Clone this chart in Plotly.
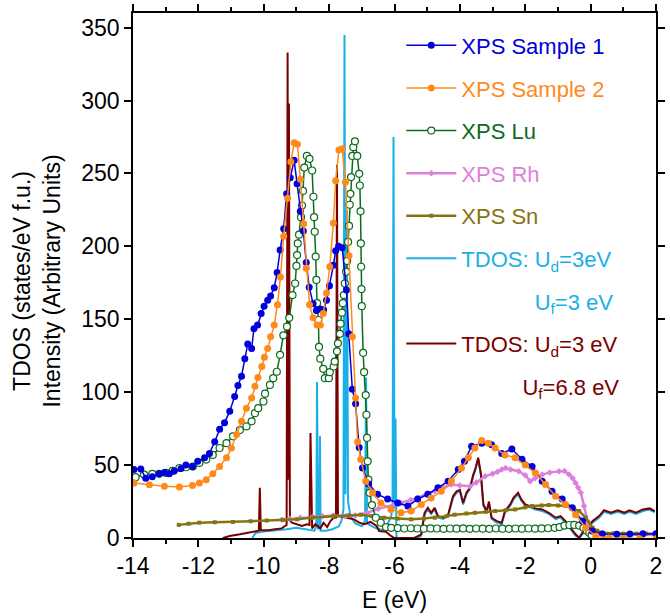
import plotly.graph_objects as go

# ---------------- data ----------------
s1_e = [-13.97, -13.76, -13.61, -13.41, -13.20, -13.04, -12.89, -12.74, -12.53, -12.38, -12.18, -12.02,
        -11.81, -11.66, -11.50, -11.35, -11.20, -11.04, -10.89, -10.79, -10.68, -10.58, -10.49, -10.37,
        -10.30, -10.19, -10.08, -9.99, -9.88, -9.79, -9.68, -9.59, -9.50, -9.39, -9.30, -9.19, -9.07,
        -8.98, -8.88, -8.79, -8.70, -8.61, -8.49, -8.39, -8.27, -8.17, -8.08, -7.99, -7.87, -7.80,
        -7.71, -7.60, -7.47, -7.40, -7.29, -7.19, -7.08, -6.98, -6.79, -6.52, -6.21, -5.90, -5.59,
        -5.29, -4.98, -4.67, -4.36, -4.05, -3.86, -3.64, -3.33, -3.03, -2.72, -2.41, -2.10, -1.79,
        -1.48, -1.18, -0.87, -0.56, -0.25, 0.05, 0.36, 0.80, 1.20, 1.60, 2.00]
s1_i = [47, 47.4, 41, 42, 44, 45, 44, 46, 47.6, 50, 49, 52.6,
        55, 58, 66, 74.5, 79, 87, 97, 104.6, 111, 123, 133, 130,
        143.5, 146, 154, 159, 163, 166, 171.6, 182, 197.5, 212, 236, 247, 259,
        243, 224, 210.5, 189, 172, 160.6, 156, 157, 156.5, 163, 173, 187, 197,
        200, 199, 170, 140, 102, 92, 62, 48, 37, 30, 26.7, 24, 21.9,
        26.7, 30, 34.4, 39, 47, 52.6, 63, 65, 64, 58, 61, 54, 49,
        39, 32, 26.7, 20.7, 11.6, 4.8, 2.7, 2.5, 2.8, 3, 3]

s2_e = [-13.97, -13.50, -13.04, -12.58, -12.18, -11.97, -11.76, -11.56, -11.35, -11.14, -10.99, -10.83,
        -10.68, -10.53, -10.37, -10.27, -10.18, -10.06, -9.98, -9.88, -9.79, -9.68, -9.58, -9.49,
        -9.39, -9.27, -9.17, -9.07, -8.97, -8.88, -8.78, -8.70, -8.60, -8.49, -8.37, -8.27, -8.18,
        -8.08, -7.98, -7.87, -7.80, -7.70, -7.60, -7.50, -7.39, -7.29, -7.19, -7.13, -7.03, -6.88,
        -6.67, -6.42, -6.11, -5.80, -5.49, -5.18, -4.88, -4.57, -4.26, -3.95, -3.74, -3.54, -3.33,
        -3.13, -2.92, -2.62, -2.31, -2.00, -1.69, -1.38, -1.07, -0.77, -0.46, -0.15, 0.16, 0.57,
        1.00, 1.50, 2.00]
s2_i = [37.8, 36.5, 35.5, 35, 36, 37.8, 40, 44, 49, 55, 61.7, 71,
        80, 89, 96, 104, 110, 117.6, 124, 130, 138, 146, 160, 179,
        207, 233, 258, 271, 270, 246, 215.5, 185, 160, 151, 146, 146, 154,
        168, 186, 216, 245, 266, 267, 244, 193.5, 138, 96, 66, 54, 39,
        31, 24, 19.6, 17.3, 18.5, 23, 27.5, 32, 39, 48, 55, 61.7, 66.8,
        65, 61.7, 57, 55, 50, 44.6, 36.7, 28.7, 23, 16, 7, 1.4, 0,
        -0.3, -0.5, -0.5]

lu_e = [-13.92, -13.66, -13.41, -13.20, -12.99, -12.79, -12.58, -12.38, -12.17, -11.97, -11.76, -11.56,
        -11.35, -11.14, -10.94, -10.73, -10.53, -10.37, -10.27, -10.17, -10.01, -9.96, -9.81, -9.71,
        -9.60, -9.50, -9.40, -9.29, -9.22, -9.12, -9.04, -9.00, -8.98, -8.96, -8.92, -8.86, -8.83,
        -8.80, -8.76, -8.68, -8.60, -8.52, -8.48, -8.46, -8.44, -8.41, -8.39, -8.37, -8.33, -8.31,
        -8.27, -8.18, -8.13, -8.01, -7.98, -7.86, -7.83, -7.76, -7.73, -7.67, -7.65, -7.61, -7.58,
        -7.55, -7.52, -7.48, -7.45, -7.42, -7.39, -7.37, -7.35, -7.33, -7.29, -7.26, -7.21, -7.14,
        -7.08, -7.06, -7.04, -7.03, -7.02, -7.01, -7.00, -6.96, -6.93, -6.88, -6.86, -6.84, -6.82,
        -6.80, -6.76, -6.69, -6.57, -6.42, -6.26, -6.10, -5.90, -5.70, -5.50, -5.30, -5.10, -4.90,
        -4.70, -4.50, -4.30, -4.10, -3.90, -3.70, -3.50, -3.30, -3.10, -2.90, -2.70, -2.50, -2.30,
        -2.10, -1.90, -1.70, -1.50, -1.30, -1.10, -0.95, -0.80, -0.65, -0.50, -0.35, -0.22, -0.12,
        -0.04, 0.03]
lu_i = [41.7, 43.5, 44, 44, 44.6, 46, 48, 48.5, 49, 51.5, 53.8, 57,
        61.7, 65, 69.7, 74, 76.5, 80, 85.6, 89, 93.6, 99, 105, 109.6,
        114, 125.6, 139, 145, 151, 166.6, 174.5, 186.6, 194, 202, 208, 220, 228,
        238, 254, 262, 260, 252, 234, 220, 210, 193, 177, 161, 149.5, 131,
        123, 116, 109.6, 109.6, 113.7, 117.6, 121, 128, 133.5, 140, 147, 154.5, 161,
        166.6, 174.5, 182.5, 190, 203, 214, 228.5, 236, 247.5, 262, 268, 272, 262,
        249.7, 241.7, 224, 202, 186, 170.7, 159, 127, 113.7, 98, 84.5, 68.6, 52.6,
        40, 31, 22.6, 13.9, 10.5, 7.5, 7, 6.8, 6.5, 6.7, 6.5, 6.4, 6.6,
        6.5, 6.3, 6.5, 6.4, 6.6, 6.3, 6.5, 6.4, 6.3, 6.5, 6.4, 6.3, 6.5,
        6.4, 6.5, 6.4, 6.6, 6.7, 7.0, 7.5, 8.5, 8.9, 9.0, 8.5, 7.0, 5.0,
        3.6, 2.0]

rh_e = [-9.45, -9.20, -8.88, -8.50, -8.20, -7.87, -7.50, -7.20, -6.83, -6.50, -6.00, -5.80, -5.50,
        -5.29, -5.00, -4.77, -4.50, -4.26, -4.00, -3.69, -3.50, -3.23, -3.00, -2.85, -2.72, -2.60,
        -2.45, -2.20, -2.00, -1.85, -1.70, -1.48, -1.25, -0.97, -0.80, -0.66, -0.55, -0.46, -0.38,
        -0.30, -0.20, -0.10, 0.00, 0.10, 0.36, 0.80, 1.20, 1.60, 2.00]
rh_i = [12.5, 13, 13.9, 14.5, 15, 15.5, 15, 15.5, 17.3, 20, 23, 24, 26,
        27.5, 30.5, 32, 34.5, 36.7, 36, 35.5, 38, 42.4, 44, 45.5, 47, 48,
        47, 45.8, 43, 39, 41, 43.5, 45, 45.8, 46, 43.5, 41, 37.8, 34.4,
        31, 21.9, 11.6, 6, 3.6, 3, 2.5, 2.2, 2, 2]

sn_e = [-12.60, -12.30, -11.97, -11.50, -10.94, -10.40, -9.91, -9.40, -8.98, -8.50, -7.87, -7.40,
        -7.03, -6.70, -6.31, -5.90, -5.49, -5.10, -4.77, -4.40, -4.16, -3.80, -3.54, -3.20, -2.92,
        -2.60, -2.31, -2.00, -1.79, -1.50, -1.28, -1.00, -0.77, -0.55, -0.35, -0.15, 0.06, 0.20,
        0.36, 0.70, 1.00, 1.40, 1.70, 2.00]
sn_i = [9, 9.8, 10.5, 10.8, 11, 11.5, 12, 12.4, 12.8, 14, 15, 15.5,
        16, 15, 13.9, 13.3, 12.8, 13.3, 13.9, 15, 16, 16.8, 17.3, 18, 18.5,
        19, 19.6, 21, 21.9, 22.3, 22.6, 22.3, 21.9, 20.5, 18.5, 13.9, 7, 5,
        3.6, 3.2, 3, 3, 3, 3]

t1_e = [-10.35, -10.25, -10.00, -9.70, -9.45, -9.30, -9.00, -8.70, -8.45, -8.39, -8.37, -8.34,
        -8.30, -8.28, -8.26, -8.10, -7.90, -7.70, -7.62, -7.56, -7.53, -7.50, -7.46, -7.42, -7.35,
        -7.20, -7.00, -6.90, -6.87, -6.84, -6.60, -6.30, -6.10, -6.06, -6.03, -6.00, -5.97, -5.94,
        -5.50, -5.40, -5.20, -5.08, -4.98, -4.88, -4.77, -4.67, -4.51, -4.36, -4.21, -4.10, -4.00,
        -3.90, -3.80, -3.69, -3.59, -3.52, -3.44, -3.36, -3.28, -3.18, -3.11, -3.03, -2.87, -2.72,
        -2.62, -2.46, -2.36, -2.22, -2.12, -2.00, -1.85, -1.69, -1.48, -1.28, -1.07, -0.92, -0.77,
        -0.61, -0.46, -0.35, -0.25, -0.10, 0.06, 0.26, 0.41, 0.62, 0.83, 1.03, 1.19, 1.39, 1.60,
        1.80, 1.96]
t1_i = [0, 3.5, 4.5, 5, 5.5, 6, 7, 6, 5, 8, 107, 6,
        8, 70, 5, 5, 6, 8, 12, 20, 345, 30, 225, 25, 15,
        10, 8, 12, 110, 10, 7, 5, 15, 23, 275, 20, 82, 0,
        0, 0, 1, 16, 19.5, 16.5, 19.5, 14, 13, 15, 27.5, 31, 32,
        23, 30, 33.5, 42.5, 47, 54, 43.5, 22, 17.5, 24, 13, 10.5, 9.5,
        17.5, 22, 26.5, 30, 25.5, 22, 21, 19.5, 18.5, 16.5, 13, 14, 10.5,
        6, 1.5, 0, 2.5, 6, 10.5, 14, 18, 16.5, 18, 16.5, 18, 16.5, 18.5,
        19.5, 17.5]

t2_e = [-11.25, -11.04, -10.73, -10.42, -10.22, -10.15, -10.12, -10.09, -10.03, -9.86, -9.65, -9.45,
        -9.35, -9.30, -9.27, -9.25, -9.23, -9.20, -9.14, -8.98, -8.83, -8.68, -8.60, -8.57, -8.54,
        -8.52, -8.42, -8.27, -8.17, -8.06, -7.96, -7.86, -7.79, -7.76, -7.73, -7.70, -7.50, -7.24,
        -7.08, -6.93, -6.73, -6.55, -6.47, -6.26, -6.11, -6.00, -5.80, -5.39, -5.18, -5.08, -4.98,
        -4.88, -4.77, -4.67, -4.51, -4.36, -4.21, -4.10, -4.00, -3.90, -3.80, -3.69, -3.59, -3.52,
        -3.44, -3.36, -3.28, -3.18, -3.11, -3.03, -2.87, -2.72, -2.62, -2.46, -2.36, -2.22, -2.12,
        -2.00, -1.85, -1.69, -1.48, -1.28, -1.07, -0.92, -0.77, -0.61, -0.46, -0.35, -0.25, -0.10,
        0.06, 0.26, 0.41, 0.62, 0.83, 1.03, 1.19, 1.39, 1.60, 1.80, 1.96]
t2_i = [0, 1.4, 2.5, 3.6, 4.8, 5, 34.4, 5.5, 5.3, 5.3, 6, 6.6,
        8.2, 9, 333, 40, 298, 12, 10.5, 9.4, 8.2, 9.4, 9, 72, 7,
        6.6, 9.4, 6.6, 10.5, 7.5, 11.6, 13.9, 14, 256, 15, 15, 14, 12.8,
        10.5, 9.4, 11, 8.2, 4.8, 4.3, 1.4, 0, 0, 0, 2.5, 17.3, 20.7,
        17.3, 20.7, 15, 13.9, 16, 28.7, 32, 33, 24, 31, 34.4, 43.5, 48,
        55, 44.6, 23, 18.5, 25, 13.9, 11.6, 10.5, 18.5, 23, 27.5, 31, 26.5,
        23, 21.9, 20.3, 19.6, 17.3, 13.9, 15, 11.6, 7, 2.5, 0.2, 3.6, 7,
        11.6, 15, 19, 17.3, 19, 17.3, 19, 17.3, 19.6, 20.3, 18.5]

x_ticks = [-14, -12, -10, -8, -6, -4, -2, 0, 2]
x_ticktext = ["-14", "-12", "-10", "-8", "-6", "-4", "-2", "0", "2"]
y_ticks = [0, 50, 100, 150, 200, 250, 300, 350]
y_ticktext = ["0", "50", "100", "150", "200", "250", "300", "350"]

names = ["XPS Sample 1", "XPS Sample 2", "XPS Lu", "XPS Rh", "XPS Sn"]
colors = {"s1": "#0000DD", "s2": "#FF8A1C", "lu": "#0E6B1E", "rh": "#DD80DC",
          "sn": "#857414", "t1": "#1AAFE6", "t2": "#7A0000"}

FONT = "Liberation Sans, Arial, sans-serif"
NB = "&#160;"


def lab(txt, c):
    return f'<span style="color:{c}">{txt}</span>'


fig = go.Figure()

fig.add_trace(go.Scatter(x=t1_e, y=t1_i, mode="lines", line=dict(color=colors["t1"], width=2),
                         name=lab("TDOS: U<sub>d</sub>=3eV", colors["t1"]), legendrank=6))
fig.add_trace(go.Scatter(x=t2_e, y=t2_i, mode="lines", line=dict(color=colors["t2"], width=2),
                         name=lab("TDOS: U<sub>d</sub>=3 eV", colors["t2"]), legendrank=8))
fig.add_trace(go.Scatter(x=rh_e, y=rh_i, mode="lines+markers", line=dict(color=colors["rh"], width=2.5),
                         marker=dict(symbol="diamond", size=5, color=colors["rh"]),
                         name=lab(names[3], colors["rh"]), legendrank=4))
fig.add_trace(go.Scatter(x=sn_e, y=sn_i, mode="lines+markers", line=dict(color=colors["sn"], width=2.5),
                         marker=dict(symbol="square", size=4, color=colors["sn"]),
                         name=lab(names[4], colors["sn"]), legendrank=5))
fig.add_trace(go.Scatter(x=lu_e, y=lu_i, mode="lines+markers", line=dict(color=colors["lu"], width=1.5),
                         marker=dict(symbol="circle", size=7, color="white",
                                     line=dict(color=colors["lu"], width=1.2)),
                         name=lab(names[2], colors["lu"]), legendrank=3))
fig.add_trace(go.Scatter(x=s1_e, y=s1_i, mode="lines+markers", line=dict(color=colors["s1"], width=1.5),
                         marker=dict(symbol="circle", size=7, color=colors["s1"]),
                         name=lab(names[0], colors["s1"]), legendrank=1))
fig.add_trace(go.Scatter(x=s2_e, y=s2_i, mode="lines+markers", line=dict(color=colors["s2"], width=1.5),
                         marker=dict(symbol="circle", size=7, color=colors["s2"]),
                         name=lab(names[1], colors["s2"]), legendrank=2))
# second lines of the two TDOS legend labels
fig.add_trace(go.Scatter(x=[None], y=[None], mode="lines", line=dict(width=0, color="white"),
                         name=lab(NB * 12 + "U<sub>f</sub>=3 eV", colors["t1"]),
                         legendrank=7, hoverinfo="skip"))
fig.add_trace(go.Scatter(x=[None], y=[None], mode="lines", line=dict(width=0, color="white"),
                         name=lab(NB * 10 + "U<sub>f</sub>=6.8 eV", colors["t2"]),
                         legendrank=9, hoverinfo="skip"))

for i, tr in enumerate(fig.data):
    tr.legendgroup = f"g{i}"

axis_common = dict(showline=True, linecolor="black", linewidth=1.5, mirror="allticks",
                   ticks="outside", tickcolor="black", tickwidth=1.5, ticklen=7,
                   showgrid=False, zeroline=False, automargin=False,
                   tickfont=dict(family=FONT, size=23, color="black"),
                   title_font=dict(family=FONT, size=23, color="black"))

fig.update_xaxes(range=[-14, 2], tickvals=x_ticks, ticktext=x_ticktext,
                 minor=dict(dtick=1, tick0=-14, ticks="outside", ticklen=4, tickcolor="black", tickwidth=1.5),
                 title_text="E (eV)", title_standoff=14, **axis_common)
fig.update_yaxes(range=[0, 360], tickvals=y_ticks, ticktext=y_ticktext, **axis_common)

fig.add_annotation(text="TDOS (states/eV f.u.)<br>Intensity (Arbitrary Units)",
                   xref="paper", yref="paper", x=-0.184, y=0.49, xanchor="center", yanchor="middle",
                   textangle=-90, showarrow=False,
                   font=dict(family=FONT, size=23, color="black"))

fig.update_layout(
    width=670, height=616,
    margin=dict(l=133, r=14, t=13, b=78),
    paper_bgcolor="white", plot_bgcolor="white",
    font=dict(family=FONT, size=22, color="black"),
    legend=dict(x=0.513, y=0.978, xanchor="left", yanchor="top", bgcolor="rgba(0,0,0,0)",
                font=dict(family=FONT, size=22), itemwidth=50, tracegroupgap=11,
                traceorder="grouped"),
    showlegend=True,
)

fig.write_html("out.html")
